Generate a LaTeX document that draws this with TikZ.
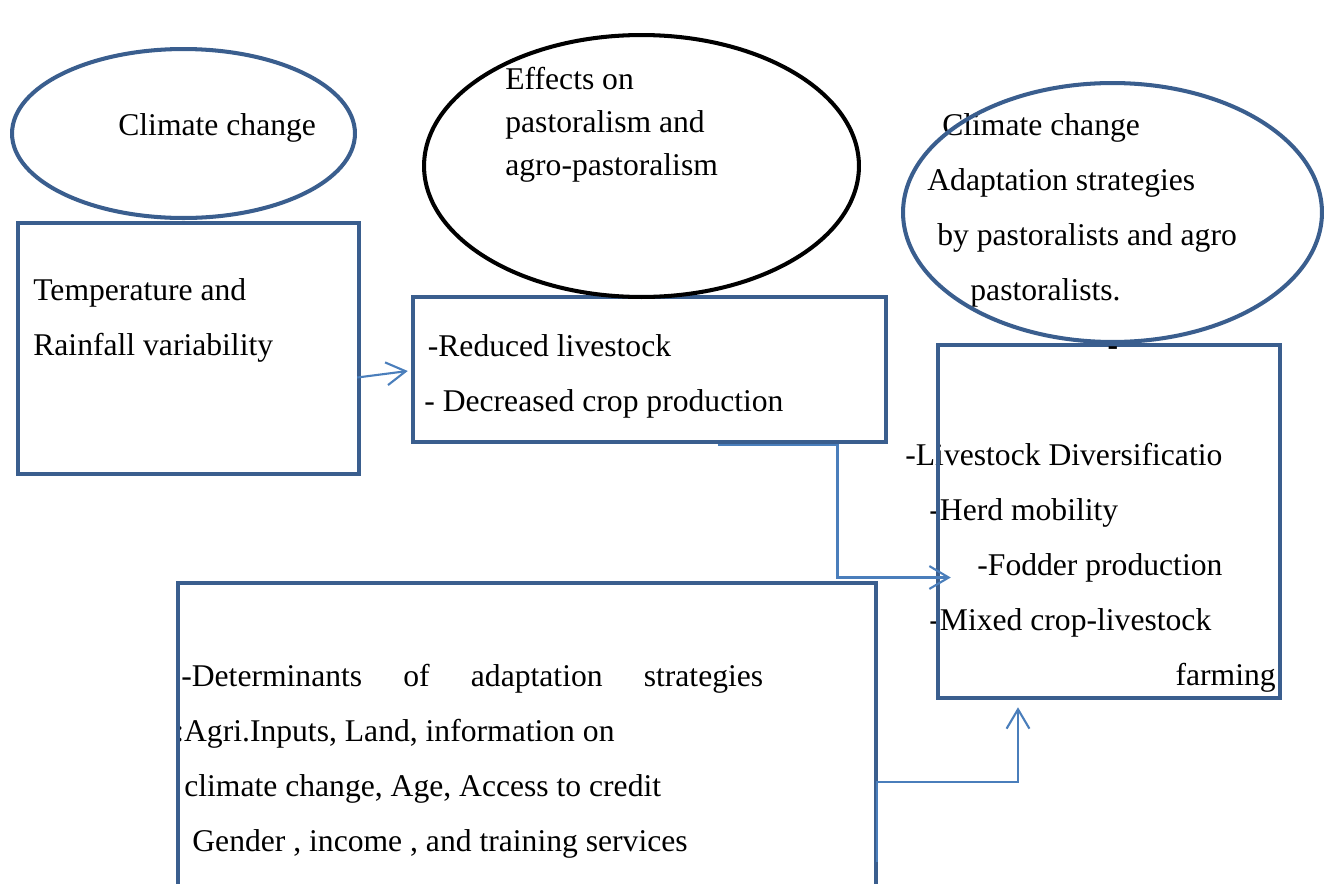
\documentclass[tikz,border=0pt]{standalone}
\usepackage{fontspec}
\setmainfont{Liberation Serif}
\usetikzlibrary{calc}
\usetikzlibrary{shapes.geometric}
\usetikzlibrary{arrows.meta}
\definecolor{framecol}{HTML}{3A5E8E}
\definecolor{linkcol}{HTML}{4A7EBB}

\begin{document}
\begin{tikzpicture}[x=0.02cm,y=-0.02cm,
    frame/.style={draw=framecol,line width=2.6pt,rectangle,inner sep=0},
    oval/.style={draw=framecol,line width=2.3pt,ellipse,inner sep=0},
    txt/.style={anchor=base west,inner sep=0,align=left,font=\fontsize{18}{31.3}\selectfont},
    link/.style={draw=linkcol,line width=1.2pt,-{Straight Barb[length=11pt,width=13pt]}}]
\useasboundingbox (0,0) rectangle (1332,883);
% texts first, frames go over them (base = last line)
\node[txt] (climtxt) at (118,135) {Climate change};
\node[txt] (temptxt) at (33,355) {Temperature and\\Rainfall variability};
\node[txt,font=\fontsize{18}{24.4}\selectfont] (efftxt) at (505,175) {Effects on\\pastoralism and\\agro-pastoralism};
\node[txt] (redtxt) at (424,411) {\hspace*{2pt}-Reduced livestock\\- Decreased crop production};
\node[txt] (adapttxt) at (927,300) {\hspace*{8.5pt}Climate change\\Adaptation strategies\\\hspace*{5.7pt}by pastoralists and agro\\\hspace*{24.5pt}pastoralists.};
\node[txt] (strattxt) at (905,630) {-Livestock Diversificatio\\\hspace*{13.7pt}-Herd mobility\\\hspace*{41pt}-Fodder production\\\hspace*{13.7pt}-Mixed crop-livestock};
\node[txt,anchor=base east] (farmtxt) at (1276,685) {farming};
\node[txt] (dettxt) at (175,851) {\hspace*{3.4pt}\makebox[11.64cm][s]{-Determinants of adaptation strategies}\\:Agri.Inputs, Land, information on\\\hspace*{5.1pt}climate change, Age, Access to credit\\\hspace*{9.7pt}Gender , income , and training services};

% boxes
\node[frame,minimum width=6.82cm,minimum height=5.02cm] (tempbox) at (188.5,348.5) {};
\node[frame,minimum width=9.46cm,minimum height=2.9cm] (effectbox) at (649.5,369.5) {};
\node[frame,minimum width=6.84cm,minimum height=7.06cm] (adaptbox) at (1109,521.5) {};
\node[frame,minimum width=13.96cm,minimum height=6.2cm] (determbox) at (527,738) {};
\node[inner sep=0,font=\fontsize{18}{20}\selectfont\bfseries] (dash) at (1113,351) {-};

% ovals
\node[oval,minimum width=6.86cm,minimum height=3.38cm] (climate) at (183.5,133.5) {};
\node[oval,draw=black,minimum width=8.7cm,minimum height=5.24cm] (effects) at (641.5,166) {};
\node[oval,minimum width=8.38cm,minimum height=5.18cm] (strategy) at (1112.5,212.5) {};

% links
\draw[link] ($(tempbox.east)+(-4,29)$) -- ($(effectbox.west)+(-3,1.5)$);
\draw[link] ($(effectbox.south)+(68,1)$) -- ++(120,0) |- ($(adaptbox.west)+(15,56)$);
\draw[link] ($(determbox.east)+(-1,124)$) -- ++(0,-80) -| ($(adaptbox.south)+(-91,7)$);
\end{tikzpicture}
\end{document}
